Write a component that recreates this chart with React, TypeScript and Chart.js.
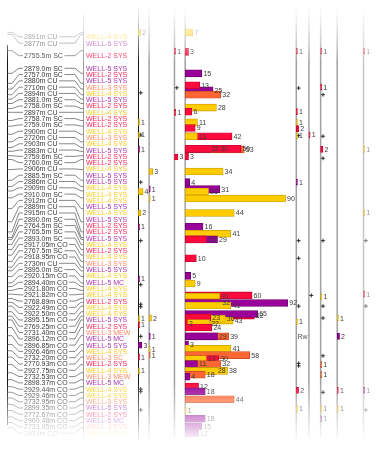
import React, { useEffect, useRef } from 'react';
import { Chart, registerables } from 'chart.js';

Chart.register(...registerables);

const WIDTH = 385;
const HEIGHT = 449;

// ---------- label rows (one per row of the correlation list) ----------
const depthLabels: string[] = [
  '2891m CU', '2877m CU', '', '2755.5m SC', '',
  '2879.0m SC', '2757.0m SC', '2880m CU', '2710m CU', '2894m CU',
  '2881.0m SC', '2758.0m SC', '2897m CU', '2758.7m SC', '2759.0m SC',
  '2900m CU', '2720m CU', '2903m CU', '2883m CU', '2759.6m SC',
  '2760.0m SC', '2906m CU', '2885.5m SC', '2886m CU', '2909m CU',
  '2910.0m SC', '2912m CU', '2889m CU', '2915m CU', '2890.0m SC',
  '2764.5m SC', '2765.5m SC', '2893.0m SC', '2917.05m CO', '2767.5m SC',
  '2918.95m CO', '2730m CU', '2895.0m SC', '2920.15m CO', '2894.40m CO',
  '2921.80m CO', '2921.82m CO', '2768.89m CO', '2922.49m CO', '2922.50m CO',
  '2895.15m CO', '2769.25m CO', '2731.40m CO', '2896.12m CO', '2896.85m CO',
  '2926.46m CO', '2732.20m CO', '2770.93m CO', '2927.75m CO', '2732.53m CO',
  '2898.37m CO', '2929.44m CO', '2929.46m CO', '2732.95m CO', '2899.35m CO',
  '2772.67m CO', '2900.48m CO', '2733.95m CO', '2934m CO',
];

const wellLabels: string[] = [
  'WELL-4 SYS', 'WELL-5 SYS', '', 'WELL-2 SYS', '',
  'WELL-5 SYS', 'WELL-2 SYS', 'WELL-5 SYS', 'WELL-3 SYS', 'WELL-4 SYS',
  'WELL-5 SYS', 'WELL-2 SYS', 'WELL-4 SYS', 'WELL-2 SYS', 'WELL-2 SYS',
  'WELL-4 SYS', 'WELL-3 SYS', 'WELL-4 SYS', 'WELL-5 SYS', 'WELL-2 SYS',
  'WELL-2 SYS', 'WELL-4 SYS', 'WELL-5 SYS', 'WELL-5 SYS', 'WELL-4 SYS',
  'WELL-4 SYS', 'WELL-4 SYS', 'WELL-5 SYS', 'WELL-4 SYS', 'WELL-5 SYS',
  'WELL-2 SYS', 'WELL-2 SYS', 'WELL-5 SYS', 'WELL-4 SYS', 'WELL-2 SYS',
  'WELL-4 SYS', 'WELL-3 SYS', 'WELL-5 SYS', 'WELL-4 SYS', 'WELL-5 MC',
  'WELL-4 SYS', 'WELL-4 SYS', 'WELL-2 SYS', 'WELL-4 SYS', 'WELL-4 SYS',
  'WELL-5 SYS', 'WELL-2 SYS', 'WELL-3 MEW', 'WELL-5 MC', 'WELL-5 SYS',
  'WELL-4 SYS', 'WELL-3 SC', 'WELL-2 SYS', 'WELL-4 SYS', 'WELL-3 MEW',
  'WELL-5 MC', 'WELL-4 SYS', 'WELL-4 SYS', 'WELL-3 SYS', 'WELL-5 SYS',
  'WELL-2 SYS', 'WELL-5 MC', 'WELL-3 SYS', 'WELL-4 SYS',
];

// true (flattened) depth position of each label, in row units
const anchorPos: (number | null)[] = [
  -0.7, -0.4, null, 2.2, null,
  5.8, 7.4, 8.3, 9.2, 9.9,
  10.6, 11.4, 12.0, 13.3, 14.2,
  15.5, 16.7, 17.6, 18.2, 18.9,
  19.5, 21.1, 22.8, 23.8, 24.5,
  25.6, 27.3, 29.4, 31.0, 31.9,
  32.2, 33.0, 33.8, 34.7, 35.7,
  36.6, 37.2, 38.1, 39.1, 39.7,
  40.3, 40.9, 41.6, 42.2, 42.8,
  43.7, 44.4, 45.0, 46.2, 47.5,
  48.9, 49.9, 50.9, 52.1, 53.4,
  54.5, 55.6, 56.5, 57.4, 58.4,
  59.4, 60.4, 61.3, 62.1,
];

// ---------- main bar track ----------
const mainPos = [
  -0.7, 2.4, 5.8, 8.5, 7.7, 9.2, 11.25, 11.9, 13.6, 14.5,
  15.8, 15.8, 17.9, 17.8, 17.8, 17.8, 19.0, 21.4, 23.1, 24.2,
  24.6, 25.7, 28.0, 30.2, 31.3, 32.2, 32.2, 35.2, 38.0, 39.2,
  41.1, 41.3, 42.2, 42.3, 42.7, 44.3, 44.05, 45.1, 44.8, 44.6,
  45.5, 45.5, 46.2, 47.6, 47.6, 48.9, 49.6, 50.6, 51.2, 51.2,
  52.0, 52.0, 53.1, 53.1, 53.7, 54.0, 55.6, 56.35, 57.6, 59.4,
  60.7, 61.9, 63.0,
];
const mainVal = [
  7, 3, 15, 25, 13, 32, 28, 6, 11, 9,
  42, 11, 53, 30, 22, 50, 3, 34, 4, 31,
  21, 90, 44, 16, 41, 29, 19, 10, 5, 9,
  60, 31, 32, 92, 41, 62, 65, 43, 36, 23,
  22, 2, 24, 39, 29, 3, 41, 58, 30, 19,
  32, 11, 28, 38, 18, 4, 12, 18, 44, 1,
  18, 15, 12,
];
const mainWell = [
  'W4', 'W2', 'W5', 'W5', 'W2', 'W3', 'W4', 'W2', 'W4', 'W2',
  'W2', 'W4', 'W3', 'W4', 'W5', 'W2', 'W2', 'W4', 'W5', 'W5',
  'W4', 'W4', 'W4', 'W5', 'W4', 'W5', 'W2', 'W2', 'W5', 'W4',
  'W2', 'W4', 'W3', 'W5', 'W4', 'W2', 'W5', 'W4', 'W4', 'W2',
  'W4', 'W2', 'W2', 'W3', 'W5', 'W5', 'W4', 'W3', 'W2', 'W4',
  'W3', 'W5', 'W3', 'W4', 'W3', 'W5', 'W2', 'W5', 'W3', 'W4',
  'W5', 'W5', 'W5',
];

// ---------- small count tracks ----------
const t1Pos = [-0.7, 13.6, 15.6, 17.9, 24.6, 28.0, 30.2, 38.46, 44.8, 45.8, 49.0, 50.9, 53.1];
const t1Val = [2, 1, 1, 1, 4, 2, 1, 1, 1, 1, 3, 1, 1];
const t1Well = ['W4', 'W4', 'W4', 'W5', 'W4', 'W4', 'W5', 'W5', 'W4', 'W2', 'W5', 'W2', 'W4'];
const t1Cross = [8.9, 15.6, 23.1, 32.4, 39.4, 42.5, 42.9, 47.6, 56.0, 56.4, 59.3];

const t2Pos = [21.4, 24.2, 25.7, 44.7, 47.6, 49.65, 50.6];
const t2Val = [3, 1, 1, 2, 1, 1, 1];
const t2Well = ['W4', 'W5', 'W4', 'W4', 'W5', 'W4', 'W3'];
const t2Cross: number[] = [];

const t3Pos = [2.3, 12.0, 19.1];
const t3Val = [1, 1, 3];
const t3Well = ['W2', 'W2', 'W2'];
const t3Cross = [8.1];

const r1Pos = [2.3, 11.9, 13.6, 14.6, 15.7, 23.1, 45.3, 56.2, 59.1];
const r1Val = [1, 1, 1, 2, 1, 1, 1, 2, 1];
const r1Well = ['W2', 'W2', 'W4', 'W2', 'W4', 'W5', 'W4', 'W2', 'W4'];
const r1Cross = [8.15, 15.7, 32.4, 35.2, 42.8, 51.9, 52.3];

const r2Pos = [15.6];
const r2Val = [1];
const r2Well = ['W2'];
const r2Cross = [41.1];

const r3Pos = [2.3, 8.0, 17.9, 41.3, 52.1, 53.7, 59.1, 60.7];
const r3Val = [1, 1, 2, 1, 1, 1, 1, 1];
const r3Well = ['W2', 'W2', 'W2', 'W4', 'W3', 'W3', 'W4', 'W5'];
const r3Cross = [9.2, 15.8, 19.3, 32.4, 42.8, 44.7, 50.7, 56.5];

const r4Pos = [44.7, 47.6, 56.2, 59.1];
const r4Val = [1, 2, 1, 1];
const r4Well = ['W4', 'W5', 'W2', 'W4'];

const r5Pos = [2.3, 17.9, 28.0, 40.9, 56.2];
const r5Val = [1, 1, 1, 1, 1];
const r5Well = ['W2', 'W4', 'W4', 'W2', 'W5'];
const r5Cross = [32.4, 42.8, 59.3];

const noteTrack = ['xR1'];
const notePos = [47.6];
const noteText = ['Rw'];

// ---------- styling ----------
const FILL: Record<string, string> = { W2: '#ff0a3c', W3: '#ff6633', W4: '#ffcc00', W5: '#990099' };
const EDGE: Record<string, string> = { W2: '#c4002c', W3: '#c84b22', W4: '#c49c00', W5: '#6a006a' };
const WELL_TEXT: Record<string, string> = {
  'WELL-2': '#ff2458',
  'WELL-3': '#ff8a66',
  'WELL-4': '#ffcc22',
  'WELL-5': '#aa33aa',
};

const FONT = '7px "Liberation Sans", Arial, sans-serif';

const TRACKS = [
  { id: 'xT1', zero: 137, ppu: 1.2, line: '#151515', lw: 1 },
  { id: 'xT2', zero: 148, ppu: 1.2, line: '#a0a0a0', lw: 1.5 },
  { id: 'xT3', zero: 174, ppu: 1.2, line: '#a0a0a0', lw: 1.5 },
  { id: 'xMain', zero: 185, ppu: 1.144, line: '#a0a0a0', lw: 1.5 },
  { id: 'xR1', zero: 299, ppu: 1.2, line: '#a0a0a0', lw: 1.5 },
  { id: 'xR2', zero: 312, ppu: 1.2, line: '#a0a0a0', lw: 1.5 },
  { id: 'xR3', zero: 324, ppu: 1.2, line: '#a0a0a0', lw: 1.5 },
  { id: 'xR4', zero: 341, ppu: 1.2, line: '#a0a0a0', lw: 1.5 },
  { id: 'xR5', zero: 368, ppu: 1.2, line: '#a8a8a8', lw: 1.5 },
];

function barSet(axisId: string, pos: number[], val: number[], well: string[], thick: number) {
  return {
    type: 'bar',
    xAxisID: axisId,
    yAxisID: 'y',
    data: pos.map((p, i) => ({ x: val[i], y: p })),
    backgroundColor: well.map((w) => FILL[w]),
    borderColor: well.map((w) => EDGE[w]),
    borderWidth: 0.8,
    borderSkipped: false,
    barThickness: thick,
    grouped: false,
    showValues: true,
  };
}

function crossSet(axisId: string, pos: number[]) {
  return {
    type: 'scatter',
    xAxisID: axisId,
    yAxisID: 'y',
    data: pos.map((p) => ({ x: 2, y: p })),
    pointStyle: 'cross',
    pointRadius: 2,
    borderColor: '#1a1a1a',
    borderWidth: 0.9,
    showLine: false,
  };
}

const panelPlugin = {
  id: 'panel',
  beforeDatasetsDraw(chart: any) {
    const ctx = chart.ctx;
    const ys = chart.scales.y;
    ctx.save();
    ctx.fillStyle = '#ffffff';
    ctx.fillRect(0, 0, WIDTH, HEIGHT);

    // track lines
    TRACKS.forEach((t) => {
      let x = chart.scales[t.id].getPixelForValue(0);
      if (t.lw === 1) x = Math.round(x) + 0.5;
      ctx.strokeStyle = t.line;
      ctx.lineWidth = t.lw;
      ctx.beginPath();
      ctx.moveTo(x, 8);
      ctx.lineTo(x, 446);
      ctx.stroke();
    });

    // depth axis and connector line
    ctx.strokeStyle = '#111';
    ctx.lineWidth = 1;
    ctx.beginPath();
    ctx.moveTo(7.5, 45);
    ctx.lineTo(7.5, 425);
    ctx.stroke();
    ctx.strokeStyle = '#9a9a9a';
    ctx.beginPath();
    ctx.moveTo(83.5, 10);
    ctx.lineTo(83.5, 446);
    ctx.stroke();

    // labels + leader lines
    ctx.font = FONT;
    ctx.textBaseline = 'middle';
    ctx.textAlign = 'left';
    depthLabels.forEach((lab, i) => {
      if (!lab) return;
      const ry = ys.getPixelForValue(i);
      const a = anchorPos[i] == null ? i : (anchorPos[i] as number);
      const ay = ys.getPixelForValue(a);
      const w = ctx.measureText(lab).width;
      ctx.strokeStyle = '#6a6a6a';
      ctx.lineWidth = 0.8;
      ctx.beginPath();
      ctx.moveTo(7.5, ay);
      ctx.lineTo(12, ay);
      ctx.lineTo(19, ry);
      ctx.lineTo(23, ry);
      ctx.moveTo(24 + w + 1.5, ry);
      ctx.lineTo(75, ry);
      ctx.lineTo(81, ay);
      ctx.lineTo(83.5, ay);
      ctx.stroke();
      ctx.fillStyle = '#3a3a3a';
      ctx.fillText(lab, 24, ry + 0.5);
      const wl = wellLabels[i];
      if (wl) {
        ctx.fillStyle = WELL_TEXT[wl.slice(0, 6)] || '#888';
        ctx.fillText(wl, 86, ry + 0.5);
      }
    });

    // notes
    ctx.fillStyle = '#555';
    noteText.forEach((t, i) => {
      const x = chart.scales[noteTrack[i]].getPixelForValue(1);
      ctx.fillText(t, x, ys.getPixelForValue(notePos[i]) + 0.5);
    });
    ctx.restore();
  },
  afterDatasetsDraw(chart: any) {
    const ctx = chart.ctx;
    ctx.save();
    ctx.font = FONT;
    ctx.textBaseline = 'middle';
    ctx.textAlign = 'left';
    ctx.fillStyle = '#3a3a3a';
    chart.data.datasets.forEach((ds: any, di: number) => {
      if (!ds.showValues) return;
      const meta = chart.getDatasetMeta(di);
      meta.data.forEach((el: any, i: number) => {
        ctx.fillText(String(ds.data[i].x), el.x + 1.5, el.y + 0.5);
      });
    });
    ctx.restore();
  },
  afterDraw(chart: any) {
    const ctx = chart.ctx;
    ctx.save();
    const top = ctx.createLinearGradient(0, 0, 0, 62);
    top.addColorStop(0, 'rgba(255,255,255,1)');
    top.addColorStop(0.2, 'rgba(255,255,255,0.92)');
    top.addColorStop(0.45, 'rgba(255,255,255,0.7)');
    top.addColorStop(0.75, 'rgba(255,255,255,0.38)');
    top.addColorStop(1, 'rgba(255,255,255,0)');
    ctx.fillStyle = top;
    ctx.fillRect(0, 0, WIDTH, 62);
    const bot = ctx.createLinearGradient(0, 382, 0, 442);
    bot.addColorStop(0, 'rgba(255,255,255,0)');
    bot.addColorStop(1, 'rgba(255,255,255,1)');
    ctx.fillStyle = bot;
    ctx.fillRect(0, 382, WIDTH, HEIGHT - 382);
    const right = ctx.createLinearGradient(348, 0, 385, 0);
    right.addColorStop(0, 'rgba(255,255,255,0)');
    right.addColorStop(1, 'rgba(255,255,255,0.8)');
    ctx.fillStyle = right;
    ctx.fillRect(348, 0, WIDTH - 348, HEIGHT);
    ctx.restore();
  },
};

export default function App() {
  const ref = useRef<HTMLCanvasElement>(null);
  useEffect(() => {
    document.body.style.margin = '0';
    const scales: any = {
      y: { type: 'linear', min: -5.07, max: 64.73, reverse: true, offset: false, display: false },
    };
    TRACKS.forEach((t) => {
      scales[t.id] = {
        type: 'linear',
        axis: 'x',
        position: 'bottom',
        display: false,
        offset: false,
        min: -t.zero / t.ppu,
        max: (WIDTH - t.zero) / t.ppu,
      };
    });
    const datasets: any[] = [
      barSet('xMain', mainPos, mainVal, mainWell, 7),
      barSet('xT1', t1Pos, t1Val, t1Well, 6),
      barSet('xT2', t2Pos, t2Val, t2Well, 6),
      barSet('xT3', t3Pos, t3Val, t3Well, 6),
      barSet('xR1', r1Pos, r1Val, r1Well, 6),
      barSet('xR2', r2Pos, r2Val, r2Well, 6),
      barSet('xR3', r3Pos, r3Val, r3Well, 6),
      barSet('xR4', r4Pos, r4Val, r4Well, 6),
      barSet('xR5', r5Pos, r5Val, r5Well, 6),
      crossSet('xT1', t1Cross),
      crossSet('xT2', t2Cross),
      crossSet('xT3', t3Cross),
      crossSet('xR1', r1Cross),
      crossSet('xR2', r2Cross),
      crossSet('xR3', r3Cross),
      crossSet('xR5', r5Cross),
    ];
    const chart = new Chart(ref.current as HTMLCanvasElement, {
      type: 'bar',
      data: { datasets },
      options: {
        indexAxis: 'y',
        animation: false,
        responsive: false,
        maintainAspectRatio: false,
        devicePixelRatio: 1,
        events: [],
        layout: { padding: 0 },
        scales,
        plugins: { legend: { display: false }, tooltip: { enabled: false } },
      },
      plugins: [panelPlugin],
    } as any);
    return () => chart.destroy();
  }, []);
  return (
    <div style={{ position: 'absolute', left: 0, top: 0, width: WIDTH, height: HEIGHT, background: '#fff' }}>
      <canvas ref={ref} width={WIDTH} height={HEIGHT} style={{ display: 'block', width: WIDTH, height: HEIGHT }} />
    </div>
  );
}
